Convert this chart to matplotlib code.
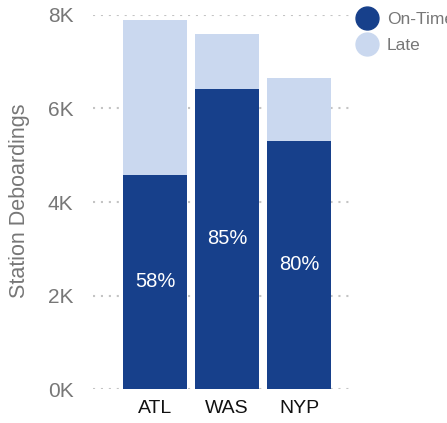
import matplotlib
matplotlib.use("Agg")
import matplotlib.pyplot as plt
from matplotlib.lines import Line2D
from matplotlib.ticker import FuncFormatter

plt.rcParams['font.family'] = ['Liberation Sans', 'DejaVu Sans']

# data
stations = ["ATL", "WAS", "NYP"]
on_time = [4580, 6420, 5310]
late = [3310, 1170, 1340]
y_ticks = [0, 2000, 4000, 6000, 8000]

dark = "#17408B"
light = "#CAD8EF"

fig = plt.figure(figsize=(4.47, 4.23), dpi=100)
ax = fig.add_axes([93 / 447, 1 - 389 / 423, 260 / 447, 374 / 423])

x = list(range(len(stations)))
ax.bar(x, on_time, width=0.889, color=dark, zorder=2)
ax.bar(x, late, bottom=on_time, width=0.889, color=light, zorder=2)

# percentage labels in the middle of the on-time part
for xi, ot, lt in zip(x, on_time, late):
    pct = round(100 * ot / (ot + lt))
    ax.text(xi, ot / 2, f"{pct}%", ha="center", va="center",
            color="white", fontsize=14.5)

ax.set_xlim(-0.86, 2.75)
ax.set_ylim(0, 8000)
ax.set_xticks(x)
ax.set_xticklabels(stations, fontsize=14, color="#111111")
ax.set_yticks(y_ticks)
ax.yaxis.set_major_formatter(FuncFormatter(lambda v, p: f"{int(v / 1000)}K"))
ax.tick_params(axis="y", length=0, pad=14, labelsize=15, labelcolor="#777777")
ax.tick_params(axis="x", length=0, pad=8)

ax.yaxis.grid(True, color="#c4c4c4", linewidth=1.5, linestyle=(0, (1, 2.8)),
              dash_capstyle="butt", zorder=1)
ax.set_axisbelow(True)
for s in ax.spines.values():
    s.set_visible(False)

fig.text(20 / 447, 1 - 201 / 423, "Station Deboardings", rotation=90,
         ha="center", va="center", fontsize=15.5, color="#777777")

handles = [Line2D([], [], marker="o", linestyle="none", markersize=16.5,
                  markerfacecolor=c, markeredgecolor=c) for c in (dark, light)]
fig.legend(handles, ["On-Time", "Late"], loc="upper left",
           bbox_to_anchor=(349.6 / 447, 1 - 5 / 423), frameon=False,
           fontsize=12.5, labelcolor="#777777", handletextpad=0.55,
           labelspacing=0.63, handlelength=1.2, borderaxespad=0)

fig.savefig("out.png", dpi=100)
